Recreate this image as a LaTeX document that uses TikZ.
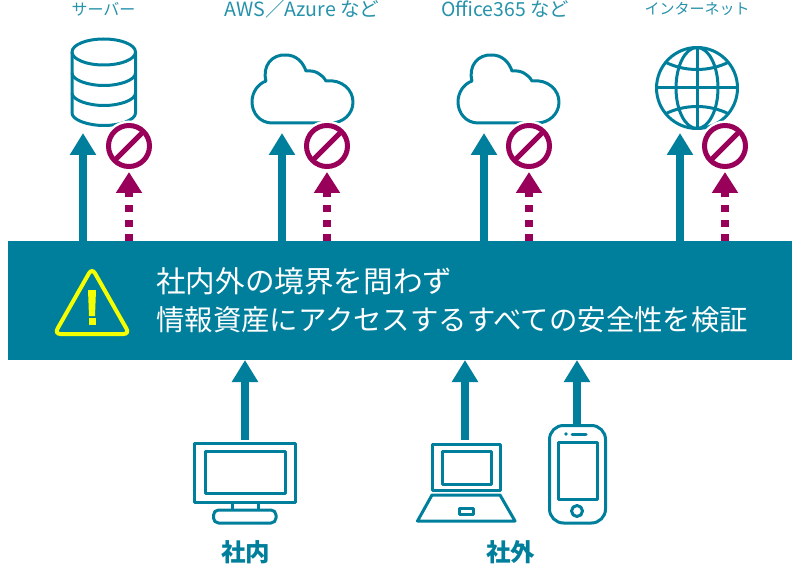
\documentclass[tikz,border=0pt]{standalone}
\usepackage{fontspec}
\usetikzlibrary{arrows.meta,shapes.geometric}
\newfontfamily\jp{Noto Sans CJK JP}
\definecolor{tealc}{HTML}{007F9C}
\definecolor{magc}{HTML}{990059}
\definecolor{yelc}{HTML}{F4FF00}
\newcommand{\fs}[1]{\fontsize{#1}{#1}\selectfont}
\tikzset{
  icon/.style={draw=tealc,line width=3pt,line join=round},
  solidarrow/.style={draw=tealc,line width=8pt,-{Triangle[width=25pt,length=22pt]}},
  blockedarrow/.style={draw=magc,line width=8pt,dash pattern=on 7pt off 7.5pt,-{Triangle[width=25pt,length=21pt]}},
  nosign/.style={circle,draw=magc,fill=white,line width=5pt,minimum size=41pt,inner sep=0pt,outer sep=0pt,preaction={draw=white,line width=10pt}},
  slash/.style={draw=magc,line width=5pt},
  toplabel/.style={text=tealc!85!white,font=\jp\fs{16},inner sep=0pt},
  bottomlabel/.style={text=tealc,font=\jp\bfseries\fs{24.5},inner sep=0pt},
  bannertext/.style={text=white,inner sep=0pt,anchor=west},
  anchorpt/.style={inner sep=0pt,minimum size=0pt}
}
\newcommand{\cloudicon}[1]{%
  \draw[icon] (#1+272,123)
    .. controls (#1+260,123) and (#1+252,113) .. (#1+252,102)
    .. controls (#1+252,92) and (#1+258,84) .. (#1+266,81)
    .. controls (#1+262,66) and (#1+272,54) .. (#1+286,55)
    .. controls (#1+296,55) and (#1+303,62) .. (#1+306,71)
    .. controls (#1+315,70) and (#1+322,74) .. (#1+326,81)
    .. controls (#1+342,79) and (#1+353,90) .. (#1+353,102)
    .. controls (#1+353,114) and (#1+343,123) .. (#1+331,123)
    -- cycle;}
\begin{document}
\begin{tikzpicture}[x=1pt,y=-1pt]
\useasboundingbox (0,0) rectangle (800,564);
% top labels
\node[toplabel] (lserver) at (103.5,9) {サーバー};
\node[toplabel,font=\jp\fs{19.6}] (laws) at (302,9.5) {AWS／Azure など};
\node[toplabel,font=\jp\fs{19.4}] (loffice) at (505,9.5) {Office365 など};
\node[toplabel,font=\jp\fs{15}] (lnet) at (697,9) {インターネット};
% server
\draw[icon] (72,52) -- (72,113) .. controls (72,120) and (88,125.5) .. (104,125.5)
  .. controls (120,125.5) and (135.5,120) .. (135.5,113) -- (135.5,52);
\draw[icon] (103.75,52) ellipse (31.75pt and 13pt);
\draw[icon] (72,73) .. controls (72,80) and (88,85.5) .. (104,85.5) .. controls (120,85.5) and (135.5,80) .. (135.5,73);
\draw[icon] (72,93) .. controls (72,100) and (88,105.5) .. (104,105.5) .. controls (120,105.5) and (135.5,100) .. (135.5,93);
% clouds
\cloudicon{0}
\cloudicon{206}
% globe
\draw[icon] (697,88) circle (40.5pt);
\draw[icon] (697,88) ellipse (21pt and 40.5pt);
\draw[icon] (697,47.5) -- (697,128.5);
\draw[icon] (656.5,88) -- (737.5,88);
\draw[icon] (665,62) .. controls (685,72) and (709,72) .. (729,62);
\draw[icon] (665,114) .. controls (685,104) and (709,104) .. (729,114);
% banner
\node[fill=tealc,minimum width=784pt,minimum height=119pt,inner sep=0pt,outer sep=0pt] (banner) at (400,300.5) {};
% warning
\draw[draw=yelc,line width=4pt,rounded corners=6pt] (92,268) -- (129.5,334) -- (54.5,334) -- cycle;
\fill[yelc] (88,290) -- (96,290) -- (95,316) -- (89,316) -- cycle;
\fill[yelc] (88.5,318) rectangle (95.5,325);
\node[bannertext,font=\jp\fs{29.6}] (t1) at (156,281) {社内外の境界を問わず};
\node[bannertext,font=\jp\fs{28.4}] (t2) at (156,320) {情報資産にアクセスするすべての安全性を検証};
% no-signs and upward arrows
\foreach \n/\ax/\nx in {1/83/129, 2/282/327, 3/484/529, 4/680/725}{
  \coordinate (up\n) at (\ax,133);
  \coordinate (from\n) at (\ax,241);
  \draw[solidarrow] (from\n) -- (up\n);
  \node[nosign] (no\n) at (\nx,146) {};
  \draw[slash] (no\n.225) -- (no\n.45);
  \coordinate (bl\n) at (\nx,172);
  \coordinate (blfrom\n) at (\nx,241);
  \draw[blockedarrow] (blfrom\n) -- (bl\n);
}
% monitor
\draw[icon] (194,443) rectangle (295,502);
\draw[icon] (205,451) rectangle (285,493);
\draw[icon] (232,502) -- (232,510) (258,502) -- (258,510);
\draw[icon,rounded corners=5pt] (213.5,523) rectangle (276,510);
% laptop
\draw[icon] (432.5,444) rectangle (500,490);
\draw[icon] (442,451) rectangle (491,484);
\draw[icon] (432,495) -- (500,495) -- (515,521) -- (417.5,521) -- cycle;
\draw[icon] (459.5,508) rectangle (473,514);
% phone
\draw[icon,rounded corners=14pt] (549.5,425.5) rectangle (605.5,523);
\draw[icon] (558,442.5) rectangle (597,499);
\draw[icon,line cap=round] (572,434) -- (586,434);
\fill[tealc] (566,434) circle (1.8pt);
\draw[icon] (577,511) circle (5.5pt);
% bottom arrows
\coordinate (d1) at (245,440); \coordinate (d2) at (465,440); \coordinate (d3) at (577,424);
\coordinate (e1) at (245,360); \coordinate (e2) at (465,360); \coordinate (e3) at (577,360);
\draw[solidarrow] (d1) -- (e1);
\draw[solidarrow] (d2) -- (e2);
\draw[solidarrow] (d3) -- (e3);
% bottom labels
\node[bottomlabel] (linside) at (245.5,552) {社内};
\node[bottomlabel] (loutside) at (510.5,552) {社外};
\end{tikzpicture}
\end{document}
